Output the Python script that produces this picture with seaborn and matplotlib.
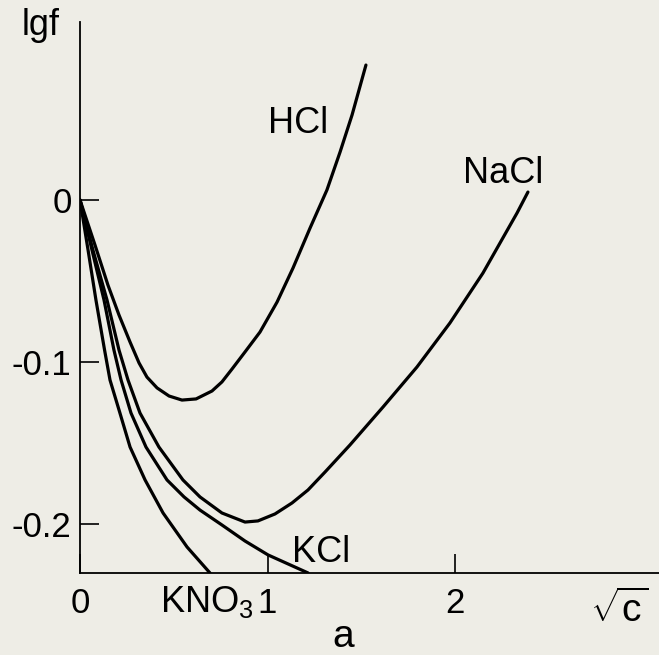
import numpy as np
import pandas as pd
import matplotlib
matplotlib.use("Agg")
import matplotlib.pyplot as plt
import seaborn as sns

# 曲线数据: x = sqrt(c), y = lgf
hcl_x = [0.0, 0.08, 0.149, 0.208, 0.267, 0.315, 0.357, 0.411, 0.475, 0.544, 0.619, 0.704,
         0.757, 0.811, 0.880, 0.960, 1.051, 1.136, 1.227, 1.317, 1.387, 1.451, 1.525]
hcl_y = [0.0, -0.0278, -0.0525, -0.071, -0.0877, -0.1006, -0.1093, -0.116, -0.121, -0.1235, -0.1228, -0.1179,
         -0.1123, -0.1043, -0.0938, -0.0815, -0.063, -0.042, -0.0173, 0.0062, 0.0296, 0.0525, 0.0833]

nacl_x = [0.0, 0.069, 0.144, 0.208, 0.256, 0.320, 0.421, 0.549, 0.640, 0.757, 0.880, 0.949,
          1.040, 1.131, 1.216, 1.307, 1.440, 1.616, 1.797, 1.973, 2.149, 2.331, 2.389]
nacl_y = [0.0, -0.0309, -0.0617, -0.0926, -0.1111, -0.1315, -0.1525, -0.1728, -0.1833, -0.1932, -0.1988, -0.1981,
          -0.1938, -0.187, -0.179, -0.1679, -0.1512, -0.1278, -0.1031, -0.0759, -0.0451, -0.008, 0.0049]

kcl_x = [0.0, 0.064, 0.128, 0.181, 0.219, 0.272, 0.352, 0.464, 0.555, 0.640, 0.757, 0.880, 1.003, 1.216]
kcl_y = [0.0, -0.0309, -0.0617, -0.0926, -0.1111, -0.1315, -0.1525, -0.1728, -0.1833, -0.1914, -0.2006, -0.2105,
         -0.2191, -0.2302]

kno3_x = [0.0, 0.043, 0.085, 0.131, 0.160, 0.213, 0.267, 0.347, 0.443, 0.571, 0.693]
kno3_y = [0.0, -0.0309, -0.0617, -0.0926, -0.1111, -0.1315, -0.1525, -0.1728, -0.1932, -0.2142, -0.2302]

x_ticks = [0, 1, 2]
x_ticklabels = ['0', '1', '2']
y_ticks = [0, -0.1, -0.2]
y_ticklabels = ['0', '-0.1', '-0.2']

curves = {'HCl': (hcl_x, hcl_y), 'NaCl': (nacl_x, nacl_y),
          'KCl': (kcl_x, kcl_y), 'KNO3': (kno3_x, kno3_y)}

sns.set_theme(style='ticks')
plt.rcParams['font.family'] = ['Liberation Sans', 'DejaVu Sans']
plt.rcParams['mathtext.fontset'] = 'custom'
plt.rcParams['mathtext.rm'] = 'Liberation Sans'
plt.rcParams['mathtext.it'] = 'Liberation Sans'
plt.rcParams['axes.unicode_minus'] = False
plt.rcParams['text.color'] = 'black'

bg = '#EEEDE6'
W, H = 659, 655
fig = plt.figure(figsize=(W / 100, H / 100), dpi=100, facecolor=bg)
ax = fig.add_axes([80 / W, 1 - 573 / H, 1 - 80 / W, (573 - 22) / H])
ax.set_facecolor(bg)

for name, (xs, ys) in curves.items():
    df = pd.DataFrame({'x': xs, 'y': ys})
    sns.lineplot(data=df, x='x', y='y', sort=False, estimator=None,
                 color='black', lw=2.3, ax=ax, solid_joinstyle='round')

ax.set_xlim(0, (W - 80) / 187.5)
ax.set_ylim(-(573 - 200) / 1620, (200 - 22) / 1620)
ax.set_xticks(x_ticks)
ax.set_xticklabels(x_ticklabels)
ax.set_yticks(y_ticks)
ax.set_yticklabels(y_ticklabels)
ax.tick_params(direction='in', length=14, width=1.2, colors='black', labelsize=25)
ax.tick_params(axis='x', pad=10)
ax.tick_params(axis='y', pad=6)
ax.set_xlabel('')
ax.set_ylabel('')
sns.despine(ax=ax)
for s in ['left', 'bottom']:
    ax.spines[s].set_linewidth(1.3)
    ax.spines[s].set_color('black')


def px(x, y):
    return x / W, 1 - y / H


fs = 26
fig.text(*px(22, 35), 'lgf', fontsize=fs, va='baseline', ha='left')
fig.text(*px(268, 133), 'HCl', fontsize=fs, va='baseline', ha='left')
fig.text(*px(463, 183), 'NaCl', fontsize=fs, va='baseline', ha='left')
fig.text(*px(292, 562), 'KCl', fontsize=fs, va='baseline', ha='left')
fig.text(*px(160, 612), r'KNO$_3$', fontsize=fs, va='baseline', ha='left')
fig.text(*px(343, 647), 'a', fontsize=fs + 2, va='baseline', ha='center')
fig.text(*px(590, 610), r'$\sqrt{\mathrm{c}}$', fontsize=28, va='center', ha='left')

fig.savefig('out.png', dpi=100, facecolor=bg)
